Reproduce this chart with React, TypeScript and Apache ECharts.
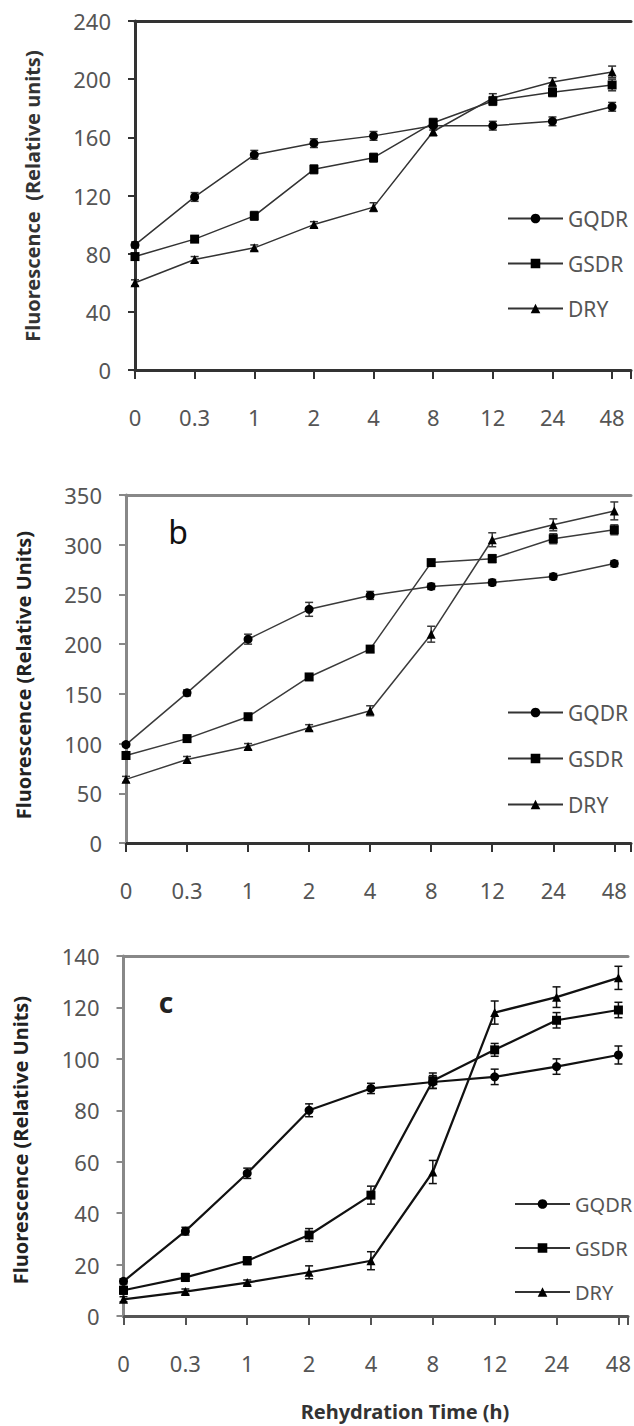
import React, { useEffect, useRef } from "react";
import * as echarts from "echarts";

const timeLabels = ["0", "0.3", "1", "2", "4", "8", "12", "24", "48"];

// Panel a
const aGQDR = [86, 119, 148, 156, 161, 168, 168, 171, 181];
const aGSDR = [78, 90, 106, 138, 146, 170, 185, 191, 196];
const aDRY = [60, 76, 84, 100, 112, 164, 187, 198, 205];
const aErrGQDR = [2, 3, 3, 3, 3, 3, 3, 3, 3];
const aErrGSDR = [2, 2, 3, 3, 3, 3, 3, 3, 4];
const aErrDRY = [2, 2, 2, 2, 3, 3, 3, 3, 4];
const aTicks = [0, 40, 80, 120, 160, 200, 240];

// Panel b
const bGQDR = [99, 151, 205, 235, 249, 258, 262, 268, 281];
const bGSDR = [88, 105, 127, 167, 195, 282, 286, 306, 315];
const bDRY = [64, 84, 97, 116, 133, 210, 305, 320, 334];
const bErrGQDR = [2, 3, 5, 7, 4, 3, 3, 3, 3];
const bErrGSDR = [2, 3, 3, 3, 3, 3, 4, 5, 5];
const bErrDRY = [3, 3, 3, 3, 5, 8, 7, 6, 9];
const bTicks = [0, 50, 100, 150, 200, 250, 300, 350];

// Panel c
const cGQDR = [13.5, 33, 55.5, 80, 88.5, 91, 93, 97, 101.5];
const cGSDR = [10, 15, 21.5, 31.5, 47, 91.5, 103.5, 115, 119];
const cDRY = [6.5, 9.5, 13, 17, 21.5, 56, 118, 124, 131.5];
const cErrGQDR = [1, 1.5, 2, 2.5, 2, 2.5, 3, 3, 3.5];
const cErrGSDR = [1.5, 1.5, 1.5, 2.5, 3.5, 3, 2.5, 3, 3];
const cErrDRY = [1, 1, 1, 2.5, 3.5, 4.5, 4.5, 4, 4.5];
const cTicks = [0, 20, 40, 60, 80, 100, 120, 140];

const FONT = "'Noto Sans', 'DejaVu Sans', sans-serif";

type Panel = {
  left: number; top: number; width: number; height: number; step: number;
  ticks: number[];
  series: number[][]; errs: number[][];
  yAxisColor: string; xAxisColor: string; lineColor: string; lineWidth: number;
  legendLeft: number; legendTop: number; legendItemWidth: number; legendGap: number; legendFont: number;
};

const panels: Panel[] = [
  { left: 135, top: 21, width: 499, height: 349, step: 60, ticks: aTicks,
    series: [aGQDR, aGSDR, aDRY], errs: [aErrGQDR, aErrGSDR, aErrDRY],
    yAxisColor: "#333", xAxisColor: "#333", lineColor: "#333", lineWidth: 1.5,
    legendLeft: 502, legendTop: 203, legendItemWidth: 55, legendGap: 24, legendFont: 21 },
  { left: 126, top: 495, width: 508, height: 348, step: 61.4, ticks: bTicks,
    series: [bGQDR, bGSDR, bDRY], errs: [bErrGQDR, bErrGSDR, bErrDRY],
    yAxisColor: "#888", xAxisColor: "#333", lineColor: "#3a3a3a", lineWidth: 1.5,
    legendLeft: 502, legendTop: 697, legendItemWidth: 55, legendGap: 25, legendFont: 21 },
  { left: 123.5, top: 956, width: 510.5, height: 360, step: 62.6, ticks: cTicks,
    series: [cGQDR, cGSDR, cDRY], errs: [cErrGQDR, cErrGSDR, cErrDRY],
    yAxisColor: "#888", xAxisColor: "#555", lineColor: "#111", lineWidth: 2.2,
    legendLeft: 509, legendTop: 1189, legendItemWidth: 55, legendGap: 24, legendFont: 20 },
];

const names = ["GQDR", "GSDR", "DRY"];
const symbols = ["circle", "rect", "triangle"];
const symbolSizes = [9, 9, 9];

export default function App() {
  const ref = useRef<HTMLDivElement>(null);
  useEffect(() => {
    if (!ref.current) return;
    const chart = echarts.init(ref.current, undefined, { renderer: "svg" });
    const grid: any[] = [];
    const xAxis: any[] = [];
    const yAxis: any[] = [];
    const series: any[] = [];
    const legend: any[] = [];

    panels.forEach((p, i) => {
      const max = p.width / p.step;
      const yMax = p.ticks[p.ticks.length - 1];
      grid.push({ left: p.left, top: p.top, width: p.width, height: p.height });
      xAxis.push({
        type: "value", gridIndex: i, min: 0, max, interval: 1,
        axisLine: { lineStyle: { color: p.xAxisColor, width: 3 } },
        axisTick: { show: true, length: 9, lineStyle: { color: p.xAxisColor, width: 2 } },
        axisLabel: {
          margin: 36, fontSize: 22, color: "#555", fontFamily: FONT,
          formatter: (v: number) => (Number.isInteger(v) && v >= 0 && v < timeLabels.length ? timeLabels[v] : ""),
        },
        splitLine: { show: false },
      });
      yAxis.push({
        type: "value", gridIndex: i, min: 0, max: yMax, interval: p.ticks[1] - p.ticks[0],
        axisLine: { show: true, onZero: false, lineStyle: { color: p.yAxisColor, width: 3 } },
        axisTick: { show: true, length: 7, lineStyle: { color: p.yAxisColor, width: 2 } },
        axisLabel: { margin: 24, fontSize: 22, color: "#555", fontFamily: FONT },
        splitLine: { show: false },
      });
      p.series.forEach((vals, k) => {
        series.push({
          type: "line", name: names[k], xAxisIndex: i, yAxisIndex: i,
          data: vals.map((v, j) => [j, v]),
          symbol: symbols[k], symbolSize: symbolSizes[k],
          lineStyle: { color: p.lineColor, width: p.lineWidth },
          itemStyle: { color: "#000" },
          z: 3,
        });
      });
      const errData: number[][] = [];
      p.series.forEach((vals, k) => vals.forEach((v, j) => errData.push([j, v, p.errs[k][j]])));
      const lc = p.lineColor;
      series.push({
        type: "custom", name: "err" + i, xAxisIndex: i, yAxisIndex: i,
        data: errData, encode: { x: 0, y: 1 }, z: 2,
        renderItem: (_params: any, api: any) => {
          const x = api.value(0), y = api.value(1), e = api.value(2);
          if (!e) return null;
          const t = api.coord([x, y + e]);
          const b = api.coord([x, y - e]);
          const w = 4;
          const style = { stroke: lc, lineWidth: 1.5 };
          return {
            type: "group",
            children: [
              { type: "line", shape: { x1: t[0], y1: t[1], x2: b[0], y2: b[1] }, style },
              { type: "line", shape: { x1: t[0] - w, y1: t[1], x2: t[0] + w, y2: t[1] }, style },
              { type: "line", shape: { x1: b[0] - w, y1: b[1], x2: b[0] + w, y2: b[1] }, style },
            ],
          };
        },
      });
      legend.push({
        orient: "vertical", left: p.legendLeft, top: p.legendTop,
        itemWidth: p.legendItemWidth, itemHeight: 12, itemGap: p.legendGap,
        textStyle: { fontSize: p.legendFont, color: "#555", fontFamily: FONT },
        data: names, selectedMode: false,
      });
    });
    // top borders
    panels.forEach((p, i) => {
      xAxis.push({
        type: "value", gridIndex: i, min: 0, max: p.width / p.step, position: "top",
        axisLine: { show: true, lineStyle: { color: i === 0 ? "#333" : "#888", width: 3 } },
        axisTick: { show: false }, axisLabel: { show: false }, splitLine: { show: false },
      });
    });

    const titleStyle = { fontFamily: FONT, fontWeight: "bold", fontSize: 20, fill: "#222" };
    chart.setOption({
      animation: false,
      backgroundColor: "#fff",
      grid, xAxis, yAxis, series, legend,
      graphic: [
        { type: "text", x: 32, y: 196, rotation: Math.PI / 2,
          style: { ...titleStyle, fill: "#333", text: "Fluorescence  (Relative units)", align: "center", verticalAlign: "middle" } },
        { type: "text", x: 23, y: 675, rotation: Math.PI / 2,
          style: { ...titleStyle, text: "Fluorescence (Relative Units)", align: "center", verticalAlign: "middle" } },
        { type: "text", x: 20, y: 1140, rotation: Math.PI / 2,
          style: { ...titleStyle, text: "Fluorescence (Relative Units)", align: "center", verticalAlign: "middle" } },
        { type: "text", x: 405, y: 1411,
          style: { ...titleStyle, fill: "#333", text: "Rehydration Time (h)", align: "center", verticalAlign: "middle" } },
        { type: "text", x: 178, y: 531,
          style: { fontFamily: FONT, fontSize: 32, fill: "#111", text: "b", align: "center", verticalAlign: "middle" } },
        { type: "text", x: 166, y: 1002,
          style: { fontFamily: FONT, fontSize: 28, fontWeight: "bold", fill: "#222", text: "c", align: "center", verticalAlign: "middle" } },
      ],
    });
    return () => chart.dispose();
  }, []);
  return <div ref={ref} style={{ position: "absolute", left: 0, top: 0, width: 634, height: 1426 }} />;
}
